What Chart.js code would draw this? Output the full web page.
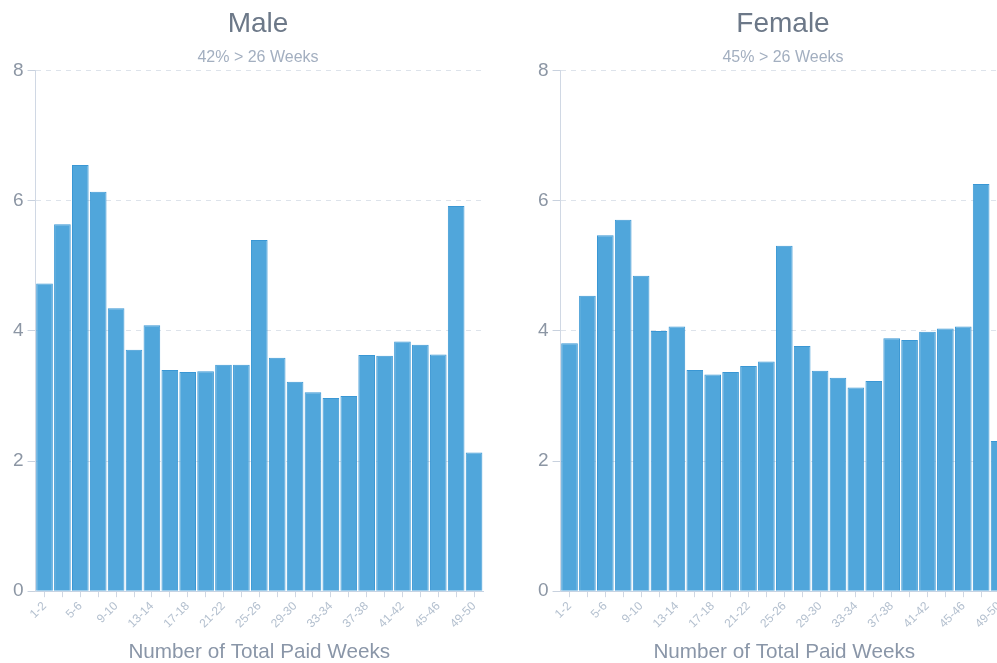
<!DOCTYPE html>
<html>
<head>
<meta charset="utf-8">
<script src="https://cdn.jsdelivr.net/npm/chart.js@4/dist/chart.umd.min.js"></script>
<style>
  html, body { margin: 0; padding: 0; background: #fff; overflow: hidden; }
  #wrap { width: 1050px; height: 663px; display: flex; }
  .box { width: 525px; height: 663px; flex: 0 0 525px; }
  .box canvas { display: block; }
</style>
</head>
<body>
<div id="wrap">
  <div class="box"><canvas id="male" width="516" height="663"></canvas></div>
  <div class="box"><canvas id="female" width="516" height="663"></canvas></div>
</div>
<script>
const categories = ["1-2","3-4","5-6","7-8","9-10","11-12","13-14","15-16","17-18","19-20","21-22","23-24","25-26","27-28","29-30","31-32","33-34","35-36","37-38","39-40","41-42","43-44","45-46","47-48","49-50"];
const maleValues = [4.73,5.64,6.55,6.14,4.35,3.71,4.09,3.40,3.37,3.38,3.48,3.48,5.40,3.59,3.22,3.06,2.97,3.00,3.63,3.62,3.84,3.79,3.64,5.92,2.13];
const femaleValues = [3.81,4.54,5.47,5.71,4.85,4.00,4.07,3.40,3.33,3.37,3.46,3.53,5.31,3.77,3.39,3.28,3.13,3.23,3.89,3.86,3.99,4.04,4.07,6.26,2.31];
const yTicks = [0,2,4,6,8];
const titles = ["Male","Female"];
const subtitles = ["42% > 26 Weeks","45% > 26 Weeks"];
const xAxisTitle = "Number of Total Paid Weeks";

const FONT = "'Liberation Sans', Arial, Helvetica, sans-serif";

function makeChart(id, title, subtitle, values) {
  new Chart(document.getElementById(id), {
    type: 'bar',
    data: {
      labels: categories,
      datasets: [{
        data: values,
        backgroundColor: '#50a6db',
        borderColor: '#3a97d4',
        borderWidth: 1,
        barPercentage: 0.93,
        categoryPercentage: 1.0
      }]
    },
    options: {
      responsive: false,
      animation: false,
      layout: { padding: { left: 9, right: 9, top: 7, bottom: 0 } },
      plugins: {
        legend: { display: false },
        tooltip: { enabled: false },
        title: {
          display: true, text: title,
          color: '#6c7888',
          font: { family: FONT, size: 28, weight: 'normal' },
          padding: { top: 0, bottom: 7 }
        },
        subtitle: {
          display: true, text: subtitle,
          color: '#a3afc0',
          font: { family: FONT, size: 16, weight: 'normal' },
          padding: { top: 0, bottom: 4 }
        }
      },
      scales: {
        x: {
          grid: { display: true, drawOnChartArea: false, drawTicks: true, offset: false, tickLength: 6, tickColor: '#cfd7e3', color: '#cfd7e3' },
          border: { display: true, color: '#c6d3e3', width: 1 },
          ticks: {
            autoSkip: false,
            maxRotation: 45, minRotation: 45,
            color: '#b4c0cf',
            font: { family: FONT, size: 12 },
            padding: 2,
            callback: function(v, i) { return i % 2 === 0 ? categories[i] : ''; }
          },
          title: {
            display: true, text: xAxisTitle,
            color: '#8a96a8',
            font: { family: FONT, size: 20.7, lineHeight: 1.06 },
            padding: { top: 8, bottom: 0 }
          }
        },
        y: {
          min: 0, max: 8,
          afterBuildTicks: function(axis) { axis.ticks = yTicks.map(v => ({ value: v })); },
          grid: { color: '#dde3eb', tickBorderDash: [], tickColor: '#c8d1de', tickLength: 8, drawTicks: true },
          border: { display: true, color: '#d0d8e4', width: 1, dash: [5, 5] },
          ticks: {
            color: '#8c96a4',
            font: { family: FONT, size: 19 },
            padding: 4
          }
        },
        yRight: {
          position: 'right',
          display: true,
          grid: { display: false, drawTicks: false },
          border: { display: false },
          ticks: { display: false },
          afterFit: function(s) { s.width = 24; }
        }
      }
    }
  });
}

makeChart('male', titles[0], subtitles[0], maleValues);
makeChart('female', titles[1], subtitles[1], femaleValues);
</script>
</body>
</html>
